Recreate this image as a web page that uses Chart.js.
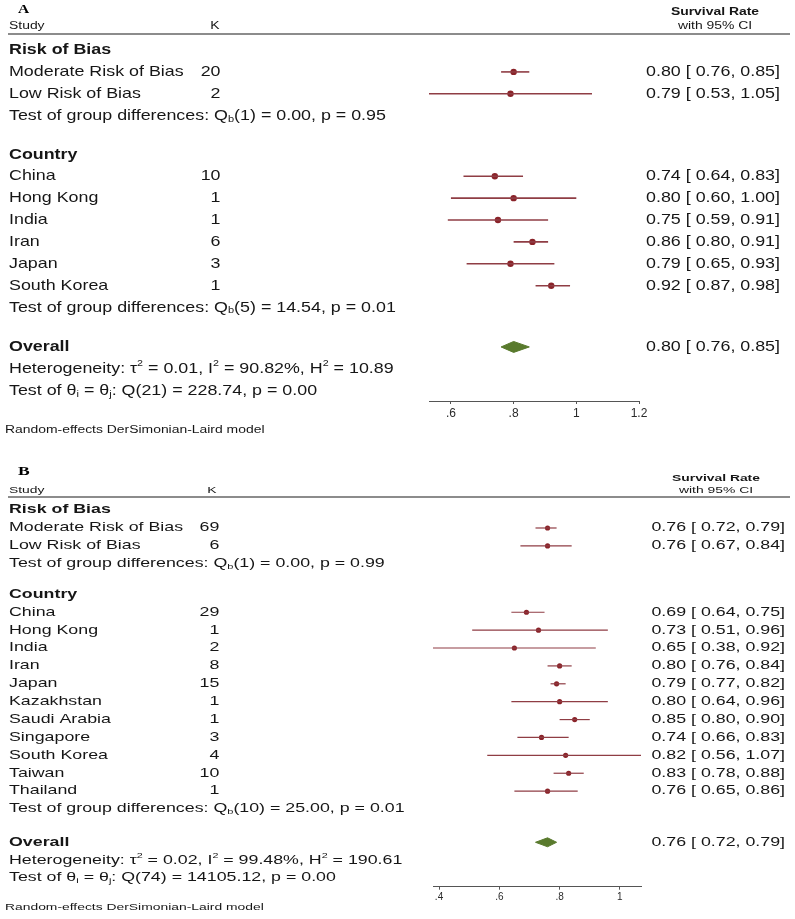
<!DOCTYPE html>
<html>
<head>
<meta charset="utf-8">
<script src="https://cdn.jsdelivr.net/npm/chart.js@4.4.1/dist/chart.umd.min.js"></script>
<style>
html, body { margin: 0; padding: 0; background: #fff; }
#wrap { position: relative; width: 795px; height: 919px; }
canvas { position: absolute; left: 0; }
#chartA { top: 0; }
#chartB { top: 440px; }
</style>
</head>
<body>
<div id="wrap">
  <canvas id="chartA" width="795" height="440"></canvas>
  <canvas id="chartB" width="795" height="479"></canvas>
</div>
<script>
// --- Panel A data ---
const biasCatsA = ['Moderate Risk of Bias', 'Low Risk of Bias'];
const biasKA = [20, 2];
const biasEstA = [0.80, 0.79];
const biasLoA = [0.76, 0.53];
const biasHiA = [0.85, 1.05];

const countryCatsA = ['China', 'Hong Kong', 'India', 'Iran', 'Japan', 'South Korea'];
const countryKA = [10, 1, 1, 6, 3, 1];
const countryEstA = [0.74, 0.80, 0.75, 0.86, 0.79, 0.92];
const countryLoA = [0.64, 0.60, 0.59, 0.80, 0.65, 0.87];
const countryHiA = [0.83, 1.00, 0.91, 0.91, 0.93, 0.98];

const overallA = [0.80, 0.76, 0.85]; // estimate, lower, upper
const testsA = ['Q_{b}(1) = 0.00, p = 0.95', 'Q_{b}(5) = 14.54, p = 0.01'];
const hetA = 'τ^{2} = 0.01, I^{2} = 90.82%, H^{2} = 10.89';
const thetaA = 'Q(21) = 228.74, p = 0.00';
const ticksA = [0.6, 0.8, 1, 1.2];

// --- Panel B data ---
const biasCatsB = ['Moderate Risk of Bias', 'Low Risk of Bias'];
const biasKB = [69, 6];
const biasEstB = [0.76, 0.76];
const biasLoB = [0.72, 0.67];
const biasHiB = [0.79, 0.84];

const countryCatsB = ['China', 'Hong Kong', 'India', 'Iran', 'Japan', 'Kazakhstan', 'Saudi Arabia', 'Singapore', 'South Korea', 'Taiwan', 'Thailand'];
const countryKB = [29, 1, 2, 8, 15, 1, 1, 3, 4, 10, 1];
const countryEstB = [0.69, 0.73, 0.65, 0.80, 0.79, 0.80, 0.85, 0.74, 0.82, 0.83, 0.76];
const countryLoB = [0.64, 0.51, 0.38, 0.76, 0.77, 0.64, 0.80, 0.66, 0.56, 0.78, 0.65];
const countryHiB = [0.75, 0.96, 0.92, 0.84, 0.82, 0.96, 0.90, 0.83, 1.07, 0.88, 0.86];

const overallB = [0.76, 0.72, 0.79];
const testsB = ['Q_{b}(1) = 0.00, p = 0.99', 'Q_{b}(10) = 25.00, p = 0.01'];
const hetB = 'τ^{2} = 0.02, I^{2} = 99.48%, H^{2} = 190.61';
const thetaB = 'Q(74) = 14105.12, p = 0.00';
const ticksB = [0.4, 0.6, 0.8, 1];

const SANS = "'Liberation Sans', Arial, Helvetica, sans-serif";
const SERIF = "'Liberation Serif', 'Times New Roman', serif";
const CI_COLOR = '#8f3d44';
const DOT_COLOR = '#8a2329';
const DIAMOND_COLOR = '#597a2d';

// row layout: group title, items, test line, gap, ... overall, heterogeneity, theta
function buildRows(groups, overall, het, theta, gapGroup, gapOverall) {
      const rows = [];
      let y = 0;
      groups.forEach((g, gi) => {
            rows.push({ kind: 'title', y: y, label: g.title });
            g.cats.forEach((c, i) => {
                  y += 1;
                  rows.push({ kind: 'item', y: y, label: c, k: g.k[i], est: g.est[i], lo: g.lo[i], hi: g.hi[i] });
            });
            y += 1;
            rows.push({ kind: 'test', y: y, label: 'Test of group differences: ' + g.test });
            y += 1 + (gi < groups.length - 1 ? gapGroup : gapOverall);
      });
      rows.push({ kind: 'overall', y: y, label: 'Overall', est: overall[0], lo: overall[1], hi: overall[2] });
      rows.push({ kind: 'het', y: y + 1, label: 'Heterogeneity: ' + het });
      rows.push({ kind: 'theta', y: y + 2, label: 'Test of θ_{i} = θ_{j}: ' + theta });
      return rows;
}

// text with _{sub} and ^{sup} parts, optionally stretched horizontally
function drawText(ctx, str, x, y, o) {
      const size = o.size, weight = o.bold ? 'bold ' : '';
      const fam = o.family || SANS;
      const parts = str.split(/(_\{[^}]*\}|\^\{[^}]*\})/).filter(s => s.length);
      const segs = parts.map(s => {
            if (s.startsWith('_{')) return { t: s.slice(2, -1), sz: size * 0.62, dy: size * 0.22 };
            if (s.startsWith('^{')) return { t: s.slice(2, -1), sz: size * 0.6, dy: -size * 0.36 };
            return { t: s, sz: size, dy: 0 };
      });
      ctx.save();
      ctx.translate(x, y);
      ctx.scale(o.sx || 1, 1);
      ctx.fillStyle = o.color || '#161616';
      ctx.textBaseline = 'middle';
      ctx.textAlign = 'left';
      let total = 0;
      segs.forEach(s => { ctx.font = weight + s.sz + 'px ' + fam; s.w = ctx.measureText(s.t).width; total += s.w; });
      let cur = o.align === 'right' ? -total : o.align === 'center' ? -total / 2 : 0;
      segs.forEach(s => { ctx.font = weight + s.sz + 'px ' + fam; ctx.fillText(s.t, cur, s.dy); cur += s.w; });
      ctx.restore();
}

function ciText(est, lo, hi) {
      return est.toFixed(2) + ' [ ' + lo.toFixed(2) + ', ' + hi.toFixed(2) + ']';
}

function drawForest(canvasId, p, rows, ticks) {
      const ctx = document.getElementById(canvasId).getContext('2d');
      const items = rows.filter(r => r.kind === 'item');
      const ov = rows.find(r => r.kind === 'overall');

      const datasets = items.map(r => ({
            data: [{ x: r.lo, y: r.y }, { x: r.hi, y: r.y }],
            borderColor: CI_COLOR,
            borderWidth: p.ciW,
            pointRadius: 0,
            clip: false
      }));
      datasets.push({
            data: items.map(r => ({ x: r.est, y: r.y })),
            showLine: false,
            pointRadius: p.dotR,
            pointBackgroundColor: DOT_COLOR,
            pointBorderWidth: 0,
            clip: false
      });
      const dh = 0.25;
      datasets.push({
            data: [{ x: ov.lo, y: ov.y }, { x: ov.est, y: ov.y - dh }, { x: ov.hi, y: ov.y }, { x: ov.est, y: ov.y + dh }, { x: ov.lo, y: ov.y }],
            borderColor: DIAMOND_COLOR,
            backgroundColor: DIAMOND_COLOR,
            borderWidth: 1,
            fill: 'shape',
            pointRadius: 0,
            tension: 0,
            clip: false
      });

      const H = ctx.canvas.height;
      const yMin = (0 - p.firstPx) / p.rowPx;
      const yMax = (p.axisY - p.firstPx) / p.rowPx;

      const textPlugin = {
            id: 'forestText',
            afterDraw(chart) {
                  const c = chart.ctx;
                  const py = v => chart.scales.y.getPixelForValue(v);
                  const f = p.font, sx = p.sx;
                  // header
                  drawText(c, p.letter, p.letterX, p.letterY, { size: p.letterFont, bold: true, family: SERIF, sx: sx, color: '#000' });
                  drawText(c, 'Study', 9, p.studyY, { size: p.hdrFont, sx: sx });
                  drawText(c, 'K', p.kHdrX, p.studyY, { size: p.hdrFont, sx: sx, align: 'center' });
                  drawText(c, 'Survival Rate', p.survX, p.survY, { size: p.hdrFont, bold: true, sx: sx, align: 'center' });
                  drawText(c, 'with 95% CI', p.survX, p.studyY, { size: p.hdrFont, sx: sx, align: 'center' });
                  c.save();
                  c.strokeStyle = '#666';
                  c.lineWidth = 1.3;
                  c.beginPath();
                  c.moveTo(8, p.lineY);
                  c.lineTo(790, p.lineY);
                  c.stroke();
                  c.restore();
                  // rows
                  rows.forEach(r => {
                        const y = py(r.y);
                        const bold = r.kind === 'title' || r.kind === 'overall';
                        drawText(c, r.label, 9, y, { size: f, bold: bold, sx: sx });
                        if (r.kind === 'item') {
                              drawText(c, String(r.k), p.kRight, y, { size: f, sx: sx, align: 'right' });
                        }
                        if (r.kind === 'item' || r.kind === 'overall') {
                              drawText(c, ciText(r.est, r.lo, r.hi), p.ciRight, y, { size: f, sx: sx, align: 'right' });
                        }
                  });
                  drawText(c, 'Random-effects DerSimonian-Laird model', 5, p.footY, { size: p.hdrFont, sx: sx });
            }
      };

      new Chart(ctx, {
            type: 'line',
            data: { datasets: datasets },
            options: {
                  responsive: false,
                  animation: false,
                  events: [],
                  layout: {
                        padding: { left: p.axisLeft, right: 795 - p.axisRight, top: 0, bottom: H - p.axisY - p.axisH }
                  },
                  scales: {
                        x: {
                              type: 'linear',
                              min: p.xMin,
                              max: p.xMax,
                              afterBuildTicks: s => { s.ticks = ticks.map(v => ({ value: v })); },
                              afterFit: s => { s.height = p.axisH; },
                              ticks: {
                                    callback: v => String(v).replace(/^0\./, '.'),
                                    font: { family: SANS, size: p.tickFont },
                                    color: '#2a2a2a',
                                    padding: 2,
                                    maxRotation: 0,
                                    autoSkip: false
                              },
                              grid: { display: true, drawOnChartArea: false, drawTicks: true, tickLength: 3, color: '#555' },
                              border: { display: true, color: '#555', width: 1 }
                        },
                        y: { type: 'linear', display: false, reverse: true, min: yMin, max: yMax }
                  },
                  plugins: { legend: { display: false }, tooltip: { enabled: false } }
            },
            plugins: [textPlugin]
      });
}

const rowsA = buildRows([
      { title: 'Risk of Bias', cats: biasCatsA, k: biasKA, est: biasEstA, lo: biasLoA, hi: biasHiA, test: testsA[0] },
      { title: 'Country', cats: countryCatsA, k: countryKA, est: countryEstA, lo: countryLoA, hi: countryHiA, test: testsA[1] }
], overallA, hetA, thetaA, 0.77, 0.8);

const rowsB = buildRows([
      { title: 'Risk of Bias', cats: biasCatsB, k: biasKB, est: biasEstB, lo: biasLoB, hi: biasHiB, test: testsB[0] },
      { title: 'Country', cats: countryCatsB, k: countryKB, est: countryEstB, lo: countryLoB, hi: countryHiB, test: testsB[1] }
], overallB, hetB, thetaB, 0.71, 0.86);

drawForest('chartA', {
      letter: 'A', letterX: 18, letterY: 10, letterFont: 13,
      rowPx: 22.1, firstPx: 46.5,
      axisLeft: 429, axisRight: 639, axisY: 401, axisH: 20,
      xMin: Math.min(...biasLoA, ...countryLoA, overallA[1]), xMax: ticksA[ticksA.length - 1],
      font: 15, sx: 1.19, hdrFont: 11.7, tickFont: 12,
      studyY: 26, survY: 12, survX: 715, lineY: 34,
      kRight: 220.5, kHdrX: 215, ciRight: 780, footY: 430,
      dotR: 3.2, ciW: 1.6
}, rowsA, ticksA);

drawForest('chartB', {
      letter: 'B', letterX: 18, letterY: 32, letterFont: 12,
      rowPx: 18.05, firstPx: 66.7,
      axisLeft: 433, axisRight: 641, axisY: 446.7, axisH: 16,
      xMin: Math.min(...biasLoB, ...countryLoB, overallB[1]), xMax: Math.max(...biasHiB, ...countryHiB, overallB[2]),
      font: 12.2, sx: 1.46, hdrFont: 9.5, tickFont: 10,
      studyY: 50, survY: 38, survX: 716, lineY: 57,
      kRight: 219.3, kHdrX: 212, ciRight: 785, footY: 467,
      dotR: 2.6, ciW: 1.2
}, rowsB, ticksB);
</script>
</body>
</html>
